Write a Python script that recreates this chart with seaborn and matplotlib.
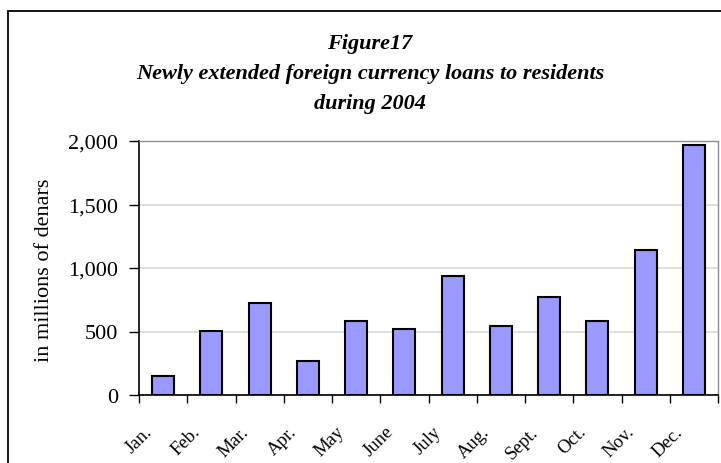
import matplotlib
matplotlib.use("Agg")
import matplotlib.pyplot as plt
import seaborn as sns
import pandas as pd
from matplotlib.ticker import FuncFormatter, FixedLocator
from matplotlib.patches import Rectangle
import matplotlib.transforms as mtransforms

months = ["Jan.", "Feb.", "Mar.", "Apr.", "May", "June", "July", "Aug.", "Sept.", "Oct.", "Nov.", "Dec."]
loans = [150, 506, 727, 270, 580, 519, 937, 546, 769, 580, 1139, 1970]
y_ticks = [0, 500, 1000, 1500, 2000]
title_lines = ["Figure17", "Newly extended foreign currency loans to residents", "during 2004"]
y_label = "in millions of denars"

sns.set_theme(style="white")
plt.rcParams['font.family'] = ['Liberation Serif', 'DejaVu Serif']
plt.rcParams['text.color'] = 'black'
plt.rcParams['axes.labelcolor'] = 'black'
plt.rcParams['xtick.color'] = 'black'
plt.rcParams['ytick.color'] = 'black'

fig = plt.figure(figsize=(7.21, 4.64), dpi=100)
ax = fig.add_axes([139/721, 1-396/464, (718-139)/721, (396-142)/464])

df = pd.DataFrame({"month": months, "value": loans})
sns.barplot(data=df, x="month", y="value", color="#9999FF", width=0.46,
            edgecolor="black", linewidth=1.5, saturation=1, ax=ax)
ax.set_xlim(-0.5, len(months) - 0.5)
ax.set_ylim(0, 2000)
ax.yaxis.set_major_locator(FixedLocator(y_ticks))
ax.yaxis.set_major_formatter(FuncFormatter(lambda v, p: f"{int(v):,}"))
ax.grid(axis="y", color="#d9d9d9", linewidth=1.2)
ax.set_axisbelow(True)

for s in ["top", "right"]:
    ax.spines[s].set_color("#8c8c8c")
    ax.spines[s].set_linewidth(1.0)
for s in ["left", "bottom"]:
    ax.spines[s].set_color("black")
    ax.spines[s].set_linewidth(1.2)

ax.set_xlabel("")
ax.set_ylabel(y_label, fontsize=16, color="black")
ax.yaxis.set_label_coords((54 - 139) / 579, 1 - (270 - 142) / 254)
ax.tick_params(axis="y", which="major", direction="out", length=7, width=1, color="black",
               labelsize=16, left=True, pad=8, labelcolor="black")
ax.set_xticks([i - 0.5 for i in range(len(months) + 1)], minor=True)
ax.tick_params(axis="x", which="minor", direction="out", length=6, width=1, color="black", bottom=True)
ax.tick_params(axis="x", which="major", length=0, pad=20, labelcolor="black")
ax.set_xticks(range(len(months)))
ax.set_xticklabels(months, rotation=45, ha="right", rotation_mode="anchor", fontsize=13.5)
offset = mtransforms.ScaledTranslation(-20/100, 0, fig.dpi_scale_trans)
for lbl in ax.get_xticklabels():
    lbl.set_transform(lbl.get_transform() + offset)

ys = [1-44/464, 1-74.5/464, 1-104/464]
for t, y in zip(title_lines, ys):
    fig.text(0.513, y, t, ha="center", va="center", fontsize=16,
             fontweight="bold", fontstyle="italic", color="black")

fig.patches.append(Rectangle((8/721, -0.05), 1.0, 1-12/464+0.05, transform=fig.transFigure,
                             fill=False, edgecolor="black", linewidth=1.3))

fig.savefig("out.png", dpi=100)
